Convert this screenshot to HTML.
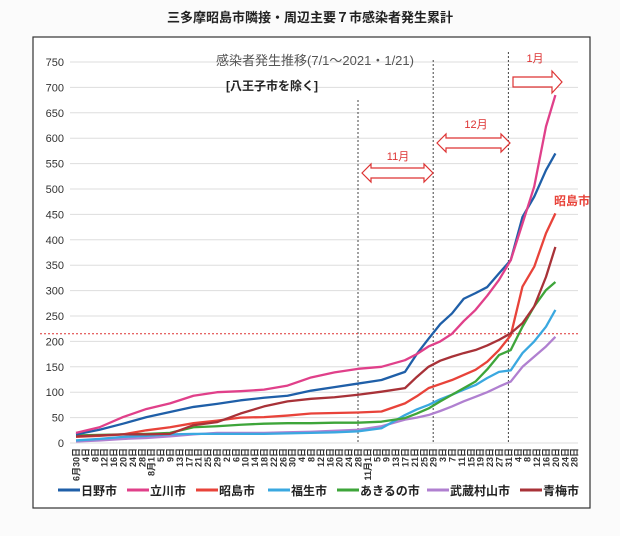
<!DOCTYPE html>
<html><head><meta charset="utf-8">
<style>
body{margin:0;background:#fbfbfb;width:620px;height:536px;overflow:hidden;font-family:"Liberation Sans","Noto Sans CJK JP",sans-serif;}
svg{display:block}
</style></head>
<body>
<svg id="chart" width="620" height="536" viewBox="0 0 620 536" xmlns="http://www.w3.org/2000/svg" font-family="Liberation Sans, Noto Sans CJK JP, sans-serif">
<text x="310" y="22" text-anchor="middle" font-size="13" font-weight="bold" fill="#222">三多摩昭島市隣接・周辺主要７市感染者発生累計</text>
<rect x="33" y="37" width="557" height="471" fill="#fff" stroke="#333" stroke-width="1.2"/>
<g id="grid"></g>
<g id="series"></g>
<text x="315" y="65" text-anchor="middle" font-size="13" fill="#555">感染者発生推移(7/1～2021・1/21)</text>
<text x="226" y="90" font-size="12" font-weight="bold" fill="#222">[八王子市を除く]</text>
<g id="annot"></g>
<g id="legend"></g>
</svg>
<script>
const days = [0,10,20,30,40,50,60,70,80,90,100,110,120,130,140,145,150,155,160,165,170,175,180,185,190,195,200,204];
const hino = [17,26,38,51,61,71,77,84,89,93,103,110,117,124,140,175,205,234,255,284,295,307,334,360,445,485,537,570];
const tachikawa = [20,31,51,67,78,93,100,102,105,113,129,139,146,150,163,175,190,200,215,240,262,290,321,360,432,505,623,685];
const akishima = [12,14,17,25,31,39,44,50,51,54,58,59,60,62,78,92,108,116,124,134,144,160,183,212,308,347,413,452];
const fussa = [5,8,12,14,17,18,18,18,18,19,20,21,23,29,55,66,75,86,95,105,114,128,140,143,177,200,229,262];
const akiruno = [15,16,17,18,20,31,33,36,38,39,39,40,40,42,49,58,68,82,95,108,121,145,173,183,229,269,301,317];
const musashimurayama = [3,5,8,10,13,17,20,20,20,21,22,24,26,33,46,50,55,63,72,82,91,100,111,121,150,170,190,209];
const ome = [13,15,17,17,18,35,41,58,72,82,87,90,95,101,108,130,150,162,170,177,183,192,203,216,236,269,327,386];
const yTicks = [0,50,100,150,200,250,300,350,400,450,500,550,600,650,700,750];
const xTickLabels = ["6月30日","4日","8日","12日","16日","20日","24日","28日","8月1日","5日","9日","13日","17日","21日","25日","29日","2日","6日","10日","14日","18日","22日","26日","30日","4日","8日","12日","16日","20日","24日","28日","11月1日","5日","9日","13日","17日","21日","25日","29日","3日","7日","11日","15日","19日","23日","27日","31日","4日","8日","12日","16日","20日","24日","28日"];
const monthLines = [120,152,184];
const refValue = 215;

const NS="http://www.w3.org/2000/svg";
const X=d=>76+d*2.35;
const Y=v=>443-v*0.508;
function mk(tag,attrs,parent,text){const e=document.createElementNS(NS,tag);for(const k in attrs)e.setAttribute(k,attrs[k]);if(text!==undefined)e.textContent=text;parent.appendChild(e);return e;}
const grid=document.getElementById('grid'),ser=document.getElementById('series'),ann=document.getElementById('annot'),leg=document.getElementById('legend');
yTicks.forEach(t=>{
  const l=mk('line',{x1:70,x2:578,y1:Y(t),y2:Y(t),stroke:'#ddd','stroke-width':1},grid);
  
  
  const tx=mk('text',{x:64,y:Y(t)+4,'text-anchor':'end','font-size':11,fill:'#333'},grid,String(t));
  
  
});
xTickLabels.forEach((s,i)=>{
  const x=X(i*4);
  const tx=mk('text',{x:0,y:0,transform:`translate(${x+3.5},448) rotate(-90)`,'text-anchor':'end','font-size':9,'font-weight':'bold',fill:'#333'},grid,s);
  
  
});
const monthTops=[100,60,52];
monthLines.forEach((d,i)=>{
  const l=mk('line',{x1:X(d),x2:X(d),y1:monthTops[i],y2:443,stroke:'#444','stroke-width':1,'stroke-dasharray':'2,2'},grid);
  
  
});
const ref=mk('line',{x1:40,x2:580,y1:Y(refValue),y2:Y(refValue),stroke:'#d33','stroke-width':1,'stroke-dasharray':'2,2'},grid);



const seriesList=[
 ['日野市',hino,'#1f5fa8','hino'],
 ['立川市',tachikawa,'#e0408a','tachikawa'],
 ['昭島市',akishima,'#e8433a','akishima'],
 ['福生市',fussa,'#3aa8e0','fussa'],
 ['あきるの市',akiruno,'#3ea53a','akiruno'],
 ['武蔵村山市',musashimurayama,'#b080d0','musashimurayama'],
 ['青梅市',ome,'#a83238','ome']];
const drawOrder=[5,3,4,2,6,0,1];
drawOrder.forEach(i=>{
  const [n,vals,c,k]=seriesList[i];
  const p=mk('polyline',{points:vals.map((v,j)=>X(days[j])+','+Y(v)).join(' '),fill:'none',stroke:c,'stroke-width':2.3,'stroke-linejoin':'round'},ser);
  
  
});
const legX=[58,127,196,268,337,427,520];
seriesList.forEach(([n,vals,c,k],i)=>{
  const g=mk('g',{},leg);
  
  
  mk('line',{x1:legX[i],x2:legX[i]+22,y1:490,y2:490,stroke:c,'stroke-width':3},g);
  mk('text',{x:legX[i]+23,y:495,'font-size':12,'font-weight':'bold',fill:'#222'},g,n);
});
function dbl(x1,x2,y,name){
  const h=5,w=9;
  const pts=[[x1,y],[x1+w,y-h*1.8],[x1+w,y-h],[x2-w,y-h],[x2-w,y-h*1.8],[x2,y],[x2-w,y+h*1.8],[x2-w,y+h],[x1+w,y+h],[x1+w,y+h*1.8]];
  const p=mk('polygon',{points:pts.map(a=>a.join(',')).join(' '),fill:'#fff',stroke:'#d33','stroke-width':1.2},ann);
  
  
}
dbl(362,433,173,'november-arrow');
dbl(437,510,143,'december-arrow');
const sa=mk('polygon',{points:'513,77 552,77 552,71 562,82 552,93 552,87 513,87',fill:'#fff',stroke:'#d33','stroke-width':1.2},ann);


const labs=[['11月',398,160,'november-label'],['12月',476,128,'december-label'],['1月',535,62,'january-label']];
labs.forEach(([t,x,y,n])=>{
  const e=mk('text',{x:x,y:y,'text-anchor':'middle','font-size':11,fill:'#d33'},ann,t);
  
  
});
const ak=mk('text',{x:554,y:205,'font-size':12,'font-weight':'bold',fill:'#e8433a'},ann,'昭島市');


</script>
</body></html>
